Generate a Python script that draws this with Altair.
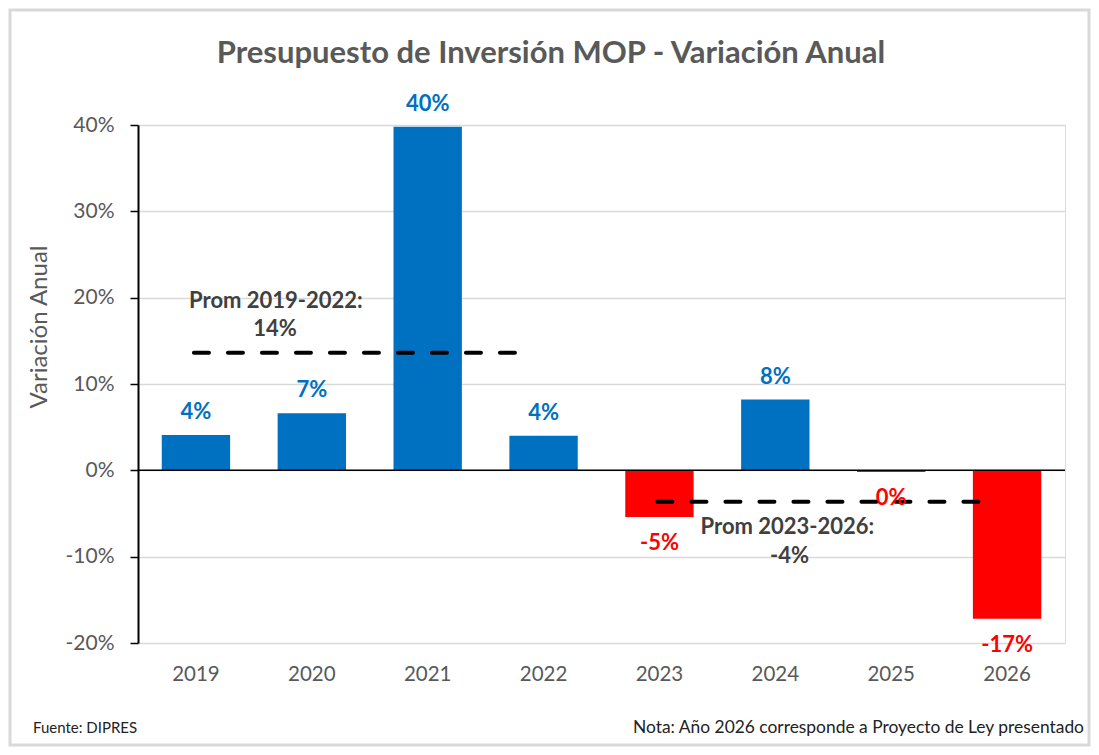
import altair as alt
import pandas as pd

# ---- data ----
years = ["2019", "2020", "2021", "2022", "2023", "2024", "2025", "2026"]
variation = [0.041, 0.066, 0.398, 0.040, -0.054, 0.082, -0.002, -0.172]

period_labels = ["Prom 2019-2022:", "Prom 2023-2026:"]
period_start = ["2019", "2023"]
period_end = ["2022", "2026"]

title_text = "Presupuesto de Inversión MOP - Variación Anual"
y_title = "Variación Anual"
source_text = "Fuente: DIPRES"
note_text = "Nota: Año 2026 corresponde a Proyecto de Ley presentado"

# ---- tables ----
df = pd.DataFrame({"year": years, "value": variation})
df["sign"] = ["pos" if v >= 0 else "neg" for v in variation]

avg_rows = []
for lab, s, e in zip(period_labels, period_start, period_end):
    vals = [v for y, v in zip(years, variation) if s <= y <= e]
    avg_rows.append({"label": lab, "start": s, "end": e, "avg": sum(vals) / len(vals)})
avg_df = pd.DataFrame(avg_rows)

FONT = "Lato"
GRAY = "#595959"
DARK = "#404040"
BLUE = "#0070C0"
RED = "#FF0000"

W, H = 927, 518
PAD = {"left": 130, "top": 117, "right": 26, "bottom": 104}

x_scale = alt.Scale(domain=years, paddingInner=0.41, paddingOuter=0.205)
y_scale = alt.Scale(domain=[-0.2, 0.4], nice=False)

x_enc = alt.X(
    "year:N", scale=x_scale, title=None,
    axis=alt.Axis(labelAngle=0, ticks=False, domain=False, labelPadding=21,
                  labelFontSize=20.5, labelColor=GRAY, labelFont=FONT, grid=False),
)
y_enc = alt.Y(
    "value:Q", scale=y_scale, title=None,
    axis=alt.Axis(format=".0%", values=[-0.2, -0.1, 0, 0.1, 0.2, 0.3, 0.4],
                  labelFontSize=21, labelColor=GRAY, labelFont=FONT,
                  labelPadding=16, tickSize=8, tickColor="black", tickWidth=1.5,
                  domainColor="black", domainWidth=2,
                  gridColor="#D9D9D9", gridWidth=1.5),
)

frame = alt.Chart(pd.DataFrame({"k": [0]})).mark_rect(
    fill=None, stroke="#D9D9D9", strokeWidth=3
).encode(
    x=alt.value(-PAD["left"] + 2), x2=alt.value(W + PAD["right"] - 2),
    y=alt.value(-PAD["top"] + 2), y2=alt.value(H + PAD["bottom"] - 2),
)

bars = alt.Chart(df).mark_bar().encode(
    x=x_enc, y=y_enc,
    color=alt.Color("sign:N", scale=alt.Scale(domain=["pos", "neg"], range=[BLUE, RED]), legend=None),
)

zero = alt.Chart(pd.DataFrame({"value": [0.0]})).mark_rule(color="black", strokeWidth=1.5).encode(
    y=alt.Y("value:Q", scale=y_scale)
)

lab_pos = alt.Chart(df).transform_filter("datum.value >= 0").mark_text(
    font=FONT, fontSize=22, fontWeight="bold", color=BLUE, dy=-23, baseline="middle"
).encode(x=alt.X("year:N", scale=x_scale), y=alt.Y("value:Q", scale=y_scale),
         text=alt.Text("value:Q", format=".0%"))

lab_neg = alt.Chart(df).transform_filter("datum.value < 0").mark_text(
    font=FONT, fontSize=22, fontWeight="bold", color=RED, dy=26, baseline="middle"
).encode(x=alt.X("year:N", scale=x_scale), y=alt.Y("value:Q", scale=y_scale),
         text=alt.Text("value:Q", format=".0%"))

avg_lines = alt.Chart(avg_df).mark_rule(
    color="black", strokeWidth=4, strokeDash=[15, 19], strokeCap="round",
    xOffset=-2, x2Offset=-14
).encode(
    x=alt.X("start:N", scale=x_scale), x2="end:N",
    y=alt.Y("avg:Q", scale=y_scale),
)

# annotation offsets (label line, value line) relative to start band center / average
ann_offsets = [((80, -52), (79, -24)), ((128, 25), (130, 54))]
ann_layers = []
for i, ((dx1, dy1), (dx2, dy2)) in enumerate(ann_offsets):
    sub = avg_df.iloc[[i]]
    base = alt.Chart(sub)
    ann_layers.append(base.mark_text(
        font=FONT, fontSize=22, fontWeight="bold", color=DARK, dx=dx1, dy=dy1, baseline="middle"
    ).encode(x=alt.X("start:N", scale=x_scale), y=alt.Y("avg:Q", scale=y_scale), text="label:N"))
    ann_layers.append(base.mark_text(
        font=FONT, fontSize=22, fontWeight="bold", color=DARK, dx=dx2, dy=dy2, baseline="middle"
    ).encode(x=alt.X("start:N", scale=x_scale), y=alt.Y("avg:Q", scale=y_scale),
             text=alt.Text("avg:Q", format=".0%")))

single = pd.DataFrame({"k": [0]})
title = alt.Chart(single).mark_text(
    font=FONT, fontSize=31, fontWeight="bold", color=GRAY, align="center", baseline="middle"
).encode(x=alt.value(413), y=alt.value(-71), text=alt.value(title_text))

ytitle = alt.Chart(single).mark_text(
    font=FONT, fontSize=24, color=GRAY, angle=270, align="center", baseline="middle"
).encode(x=alt.value(-98), y=alt.value(202), text=alt.value(y_title))

source = alt.Chart(single).mark_text(
    font=FONT, fontSize=15, color="#222222", align="left", baseline="middle"
).encode(x=alt.value(-105), y=alt.value(603), text=alt.value(source_text))

note = alt.Chart(single).mark_text(
    font=FONT, fontSize=17.4, color="#222222", align="right", baseline="middle"
).encode(x=alt.value(946), y=alt.value(603), text=alt.value(note_text))

chart = alt.layer(
    frame, bars, zero, avg_lines, lab_pos, lab_neg, *ann_layers, title, ytitle, source, note
).properties(
    width=W, height=H, padding=PAD, autosize=alt.AutoSizeParams(type="none"),
    background="white",
).configure_view(stroke=None).configure(
    locale={"number": {"decimal": ".", "thousands": ",", "grouping": [3],
                       "currency": ["$", ""], "minus": "-"}}
)

chart.save("out.html", embed_options={"renderer": "svg", "actions": False})
